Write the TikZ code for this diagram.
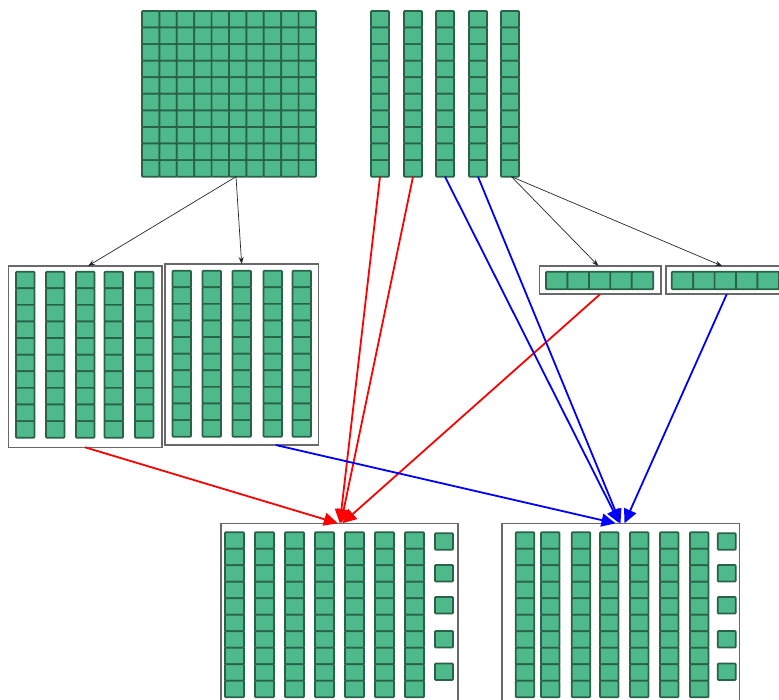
\documentclass[tikz,border=0pt]{standalone}
\usetikzlibrary{arrows.meta,calc}
\definecolor{cellfill}{RGB}{78,186,140}
\definecolor{celledge}{RGB}{42,98,72}
\definecolor{boxedge}{RGB}{105,105,105}
\newcommand\myvrod[5]{%
  \foreach \k in {1,...,#5}{\draw[cell] ({#1},{#2+(\k-1)*#4}) rectangle ++(#3,#4);}}
\newcommand\myhrod[5]{%
  \foreach \k in {1,...,#5}{\draw[cell] ({#1+(\k-1)*#3},{#2}) rectangle ++(#3,#4);}}
\tikzset{
  cell/.style={fill=cellfill, draw=celledge, line width=1.7pt, rounded corners=0.8pt},
  grp/.style={draw=none, fill=none, inner sep=0pt, outer sep=0pt, anchor=north west},
  frame/.style={draw=boxedge, fill=white, line width=1.6pt, inner sep=0pt, outer sep=0pt, anchor=north west},
  thinarrow/.style={draw=black!85, line width=0.7pt, -{Stealth[length=7pt,width=5pt]}},
  redarrow/.style={draw=red, line width=1.8pt, -{Triangle[length=14pt,width=13pt]}},
  bluearrow/.style={draw=blue, line width=1.8pt, -{Triangle[length=14pt,width=13pt]}}
}
\begin{document}
\begin{tikzpicture}[x=1pt,y=-1pt]
\useasboundingbox (0,0) rectangle (779,700);
\clip (0,0) rectangle (779,700);

% top grid 10x10
\node[grp, minimum width=174pt, minimum height=165.7pt] (grid) at (142,11) {};
\foreach \i in {0,...,9}{\foreach \j in {0,...,9}{
  \draw[cell] ({142+\i*17.4},{11+\j*16.57}) rectangle ++(17.4,16.57);}}

% top rods
\foreach \n/\x in {t1/371,t2/404,t3/436,t4/469,t5/501}{
  \node[grp, minimum width=18pt, minimum height=165.7pt] (\n) at (\x,11) {};
  \myvrod{\x}{11}{18}{16.57}{10}
}

% middle left boxes
\node[frame, minimum width=153.4pt, minimum height=181.3pt] (m1) at (8.3,266) {};
\foreach \x in {16,46,76,104.5,135}{\myvrod{\x}{271.7}{18.5}{16.6}{10}}
\node[frame, minimum width=153.3pt, minimum height=181pt] (m2) at (165,264) {};
\foreach \x in {172.5,202.5,232.5,263.5,292.5}{\myvrod{\x}{270.7}{18.5}{16.6}{10}}

% middle right boxes
\node[frame, minimum width=121.4pt, minimum height=28.3pt] (ra) at (539.3,266) {};
\myhrod{546}{271.7}{21.46}{17.6}{5}
\node[frame, minimum width=121.4pt, minimum height=28.3pt] (rb) at (666,266) {};
\myhrod{671.7}{271.7}{21.46}{17.6}{5}

% bottom boxes
\node[frame, minimum width=237.3pt, minimum height=190pt] (b1) at (220.7,523.3) {};
\foreach \x in {225,255,285,315,345,375,405}{\myvrod{\x}{532.3}{19}{16.5}{10}}
\foreach \y in {533.3,565,597,631,663.5}{\draw[cell] (435,\y) rectangle ++(18,16.5);}
\node[frame, minimum width=237.6pt, minimum height=190pt] (b2) at (501.7,523.3) {};
\foreach \x in {515.7,541,571.7,600,630,660,690}{\myvrod{\x}{532.3}{18.5}{16.5}{10}}
\foreach \y in {533.3,565,597,631,663.5}{\draw[cell] (717.7,\y) rectangle ++(18,16.5);}

% black arrows
\draw[thinarrow] ($(grid.south)+(7,0)$) -- ($(m1.north)+(3,0)$);
\draw[thinarrow] ($(grid.south)+(7,0)$) -- (m2.north);
\draw[thinarrow] ($(t5.south)+(1.5,0)$) -- ($(ra.north)+(-1.5,0)$);
\draw[thinarrow] ($(t5.south)+(1.5,0)$) -- ($(rb.north)+(-4.5,0)$);

% red arrows
\draw[redarrow] (t1.south) -- ($(b1.north)+(0.5,0)$);
\draw[redarrow] (t2.south) -- ($(b1.north)+(1.5,0)$);
\draw[redarrow] (m1.south) -- ($(b1.north)+(-1.5,0)$);
\draw[redarrow] (ra.south) -- ($(b1.north)+(3,0)$);

% blue arrows
\draw[bluearrow] (t3.south) -- ($(b2.north)+(-1,0)$);
\draw[bluearrow] (t4.south) -- (b2.north);
\draw[bluearrow] ($(m2.south)+(34,0)$) -- ($(b2.north)+(-5,0)$);
\draw[bluearrow] (rb.south) -- ($(b2.north)+(4,0)$);
\end{tikzpicture}
\end{document}
